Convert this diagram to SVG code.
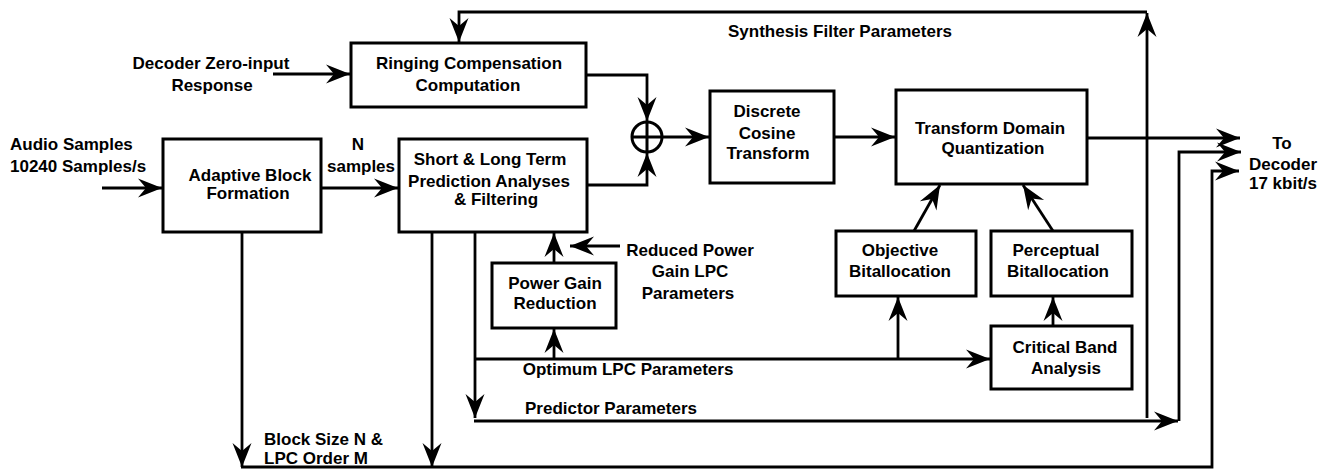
<svg xmlns="http://www.w3.org/2000/svg" width="1327" height="470" viewBox="0 0 1327 470">
<style>
  .box { fill: #fff; stroke: #000; stroke-width: 3; }
  .ln { fill: none; stroke: #000; stroke-width: 2.8; }
  text { font-family: "Liberation Sans", Arial, sans-serif; font-weight: bold; font-size: 17px; fill: #000; }
  .c { text-anchor: middle; }
</style>
<defs>
  <marker id="ah" markerUnits="userSpaceOnUse" markerWidth="28" markerHeight="24" viewBox="-26 -12 28 24" refX="0" refY="0" orient="auto">
    <path d="M0,0 L-24,-9.5 L-16,0 L-24,9.5 Z" fill="#000"/>
  </marker>
</defs>
<rect width="1327" height="470" fill="#fff"/>

<g id="connectors">
  <path class="ln" d="M273,74 H350" marker-end="url(#ah)"/>
  <path class="ln" d="M102,188 H162" marker-end="url(#ah)"/>
  <path class="ln" d="M321,188 H398" marker-end="url(#ah)"/>
  <path class="ln" d="M586,75 H647 V121" marker-end="url(#ah)"/>
  <path class="ln" d="M587,185 H647 V153" marker-end="url(#ah)"/>
  <path class="ln" d="M662,137 H709" marker-end="url(#ah)"/>
  <path class="ln" d="M834,137 H895" marker-end="url(#ah)"/>
  <path class="ln" d="M1087,138 H1240" marker-end="url(#ah)"/>
  <path class="ln" d="M1147,418 V13" marker-end="url(#ah)"/>
  <path class="ln" d="M1147,12 H459 V42" marker-end="url(#ah)"/>
  <path class="ln" d="M475,232 V418" marker-end="url(#ah)"/>
  <path class="ln" d="M474,421 H1178" marker-end="url(#ah)"/>
  <path class="ln" d="M1179,421 V152 H1241" marker-end="url(#ah)"/>
  <path class="ln" d="M475,359 H990" marker-end="url(#ah)"/>
  <path class="ln" d="M554,359 V329" marker-end="url(#ah)"/>
  <path class="ln" d="M898,359 V297" marker-end="url(#ah)"/>
  <path class="ln" d="M554,263 V233" marker-end="url(#ah)"/>
  <path class="ln" d="M620,246 H570" marker-end="url(#ah)"/>
  <path class="ln" d="M1053,326 V297" marker-end="url(#ah)"/>
  <path class="ln" d="M914,231 L940,185" marker-end="url(#ah)"/>
  <path class="ln" d="M1053,231 L1023,185" marker-end="url(#ah)"/>
  <path class="ln" d="M242,232 V467" marker-end="url(#ah)"/>
  <path class="ln" d="M432,232 V467" marker-end="url(#ah)"/>
  <path class="ln" d="M241,467 H1212 V171 H1239" marker-end="url(#ah)"/>
</g>

<g id="sum">
  <circle cx="647" cy="137" r="15" fill="#fff" stroke="#000" stroke-width="3"/>
  <path d="M632,137 H662 M647,122 V152" stroke="#000" stroke-width="3"/>
</g>

<g id="ringing">
  <rect class="box" x="351" y="43" width="235" height="64"/>
  <text class="c" x="469" y="69">Ringing Compensation</text>
  <text class="c" x="468" y="91">Computation</text>
</g>

<g id="adaptive">
  <rect class="box" x="163" y="139" width="158" height="93"/>
  <text class="c" x="250" y="181">Adaptive Block</text>
  <text class="c" x="248" y="199">Formation</text>
</g>

<g id="shortlong">
  <rect class="box" x="399" y="139" width="188" height="93"/>
  <text class="c" x="490" y="165">Short &amp; Long Term</text>
  <text class="c" x="489" y="187">Prediction Analyses</text>
  <text class="c" x="496" y="205">&amp; Filtering</text>
</g>

<g id="dct">
  <rect class="box" x="710" y="91" width="124" height="92"/>
  <text class="c" x="767" y="117">Discrete</text>
  <text class="c" x="767" y="139">Cosine</text>
  <text class="c" x="768" y="159">Transform</text>
</g>

<g id="tdq">
  <rect class="box" x="896" y="90" width="191" height="94"/>
  <text class="c" x="990" y="134">Transform Domain</text>
  <text class="c" x="993" y="154">Quantization</text>
</g>

<g id="powergain">
  <rect class="box" x="492" y="263" width="124" height="65"/>
  <text class="c" x="555" y="289">Power Gain</text>
  <text class="c" x="555" y="309">Reduction</text>
</g>

<g id="objective">
  <rect class="box" x="836" y="231" width="140" height="65"/>
  <text class="c" x="900" y="256">Objective</text>
  <text class="c" x="900" y="277">Bitallocation</text>
</g>

<g id="perceptual">
  <rect class="box" x="991" y="231" width="141" height="65"/>
  <text class="c" x="1056" y="256">Perceptual</text>
  <text class="c" x="1058" y="277">Bitallocation</text>
</g>

<g id="critical">
  <rect class="box" x="991" y="326" width="141" height="63"/>
  <text class="c" x="1065" y="353">Critical Band</text>
  <text class="c" x="1066" y="374">Analysis</text>
</g>

<g id="labels">
  <text class="c" x="211" y="69">Decoder Zero-input</text>
  <text class="c" x="212" y="91">Response</text>
  <text x="10" y="150">Audio Samples</text>
  <text x="10" y="172">10240 Samples/s</text>
  <text class="c" x="358" y="150">N</text>
  <text class="c" x="361" y="172">samples</text>
  <text class="c" x="840" y="37">Synthesis Filter Parameters</text>
  <text class="c" x="1282" y="149">To</text>
  <text class="c" x="1283" y="170">Decoder</text>
  <text class="c" x="1283" y="189">17 kbit/s</text>
  <text class="c" x="690" y="256">Reduced Power</text>
  <text class="c" x="690" y="277">Gain LPC</text>
  <text class="c" x="688" y="299">Parameters</text>
  <text class="c" x="628" y="375">Optimum LPC Parameters</text>
  <text class="c" x="611" y="414">Predictor Parameters</text>
  <text x="264" y="445">Block Size N &amp;</text>
  <text x="264" y="464">LPC Order M</text>
</g>
</svg>
